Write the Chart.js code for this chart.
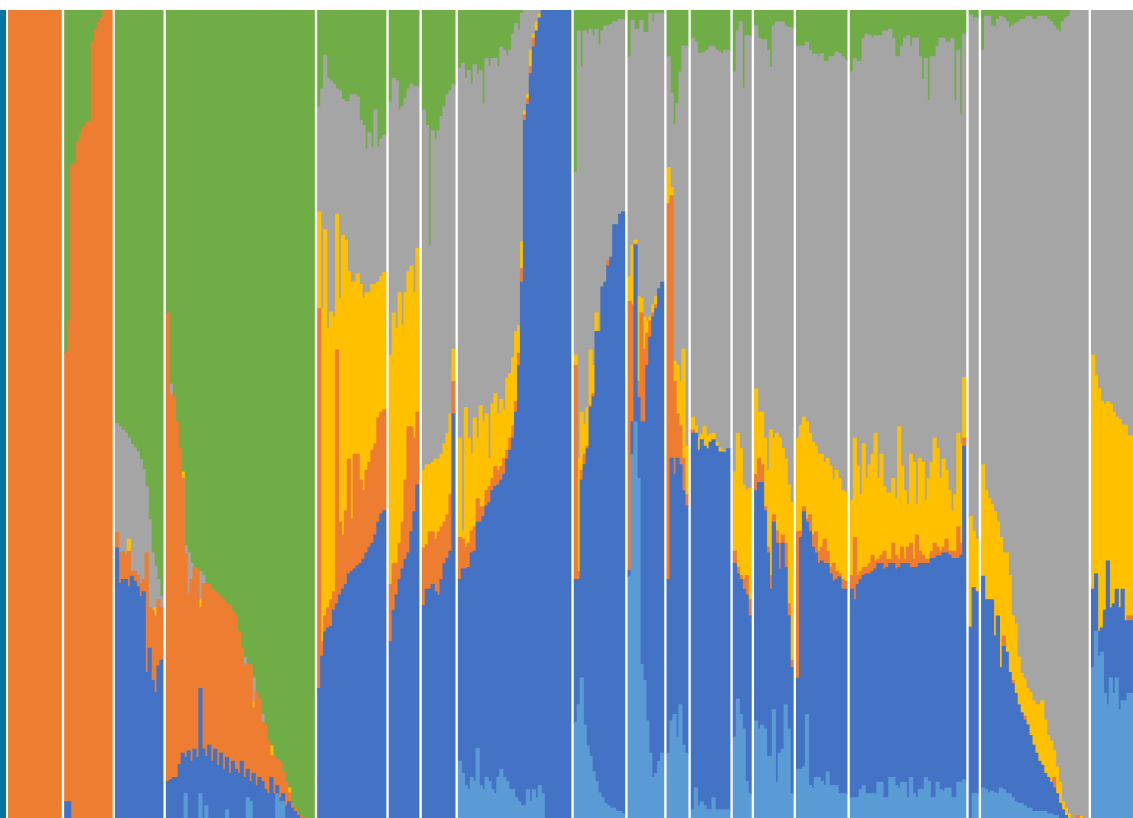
<!DOCTYPE html>
<html><head><meta charset="utf-8">
<script src="https://cdn.jsdelivr.net/npm/chart.js@4"></script>
<style>
html,body{margin:0;padding:0;background:#fff;width:1133px;height:818px;overflow:hidden;}
#edge{position:absolute;left:0;top:10px;width:6px;height:808px;background:#0475a2;}
#wrap{position:absolute;left:8px;top:10px;width:1125px;height:808px;}
</style></head><body>
<div id="edge"></div>
<div id="wrap"><canvas id="c"></canvas></div>
<script>
// number of individuals in each population group (left to right)
const groupSizes = [18,16,16,50,23,10,11,38,17,12,7,13,6,13,17,39,3,36,14];

// ancestry components, given as the cumulative top (in %) of each component, bottom to top
// K1 light blue
const lightBlueTop = [
 0,0,0,0,0,0,0,0,0,0,0,0,0,0,0,0,0,0,
 0,0,0,0,0,0,0,0,0,0,0,0,0,0,0,0,
 0,0,0,0,0,0,0,0,0,0,0,0,0,0,0,0,
 0,0,0,0,0,0,3,0,0,0, 0,3,0,1.5,0,0,0,0,0,0, 1,0,0,0,0,0,0,2.5,2,0, 0,0,0,0,0,0,0,3,2,2, 0,0,0,0,0,0,0,0,0,0,
 0,0,0,0,0,0,0,0,0,0,0,0,0,0,0,0,0,0,0,0,0,0,0,
 0,0,0,0,0,0,0,0,0,0,
 0,0,0,0,0,0,0,0,0,0,0,
 7,5.5,4,3.5,5,4.5,8.6,4,3.5,5, 4.5,3.5,3,5,6,5,4.5,3.5,3.5,2.5, 2,1.5,1.5,3.5,2,3.5,2.5,4,3,0, 0,0,0,0,0,0,0,0,
 11.8,14,17.3,11.5,8.9,7.6,5.7,4.5,3.1,2.5,1.8,1.5,1.2,1.2,0.8,0.8,0.5,
 29.9,45,49,42,19,17,12,8,5,5.5,7,8,
 8,12,12.8,10,14,9,8,
 1,3.7,1.5,2,1.5,1,1,2.5,1,1,1,1,1,
 10,14.7,12.8,11,4.5,3,
 12,11,11.5,11,7.6,7.6,13.4,4.4,8,8.5,14,11,3,
 6,6,6.3,12.8,4,3.7,5,5,4.5,4,5.7,4,4,4,3,3,3,
 2.5,2.5,2.5,3.5,4,3,3,3,3,4.4, 4.4,2.5,2.5,5,5,4,3.7,4.4,4.4,2.5, 5,3,2.5,3.5,3.5,5,4.5,2.5,2.5,4.4, 3.5,3.3,3.7,3.7,2.5,2.5,4.4,4.4,4.7,
 0,3,3,
 3.7,3.5,3.1,3.3,3.1,3,3.7,3.5,3,3, 2.5,2,1.8,1.8,1.5,1.2,1.2,0.8,0.8,0.8, 0.8,0.8,0.5,0.5,0.3,0.3,0,0,0,0, 0,0,0,0,0,0,
 18.6,23.1,20,20.5,15.4,14,17.3,15.4,17.3,13.4,14.5,14.5,15.4,15.4
];
// K2 blue
const blueTop = [
 0,0,0,0,0,0,0,0,0,0,0,0,0,0,0,0,0,0,
 2,2,0,0,0,0,0,0,0,0,0,0,0,0,0,0,
 33.4,29,29.5,29.5,28.6,29.9,29.3,28.6,27.4,28,18,21,17,15.5,18.8,19.5,
 4.5,4.7,5,5,6.6,8,7.5,8.3,7,8.5, 7.5,16,8.5,7.6,9,7,8.5,6.5,8,6, 7.5,5.5,7,6,5.5,7,5,6,4.5,5.5, 4,5,4.5,3.5,3,5,3,4,2.5,3, 1.5,2,1.2,0.8,0.3,0,0,0,0,0,
 16,20,23,23.5,23.7,25.7,26.5,27.6,28.3,28.9,30.2,30.5,30.8,31.2,31.5,32,32.8,33.5,34,35,36.6,37.6,38,
 21.8,25.7,27.6,29.5,30.8,32,32.8,35.4,37.9,41.2,
 26.3,28.3,28.3,28.9,28,27.6,29.5,31.5,32.1,33,50,
 29.5,30.8,30.8,31,32.8,33,36.6,36.6,37.3,38.6, 39,40.5,41,41.2,41.8,42.5,44.4,45.5,47,50.2, 56,66.3,86.3,88.3,92.1,95.4,97.4,99,100,100, 100,100,100,100,100,100,100,100,
 29.5,29.5,41.8,43.7,45.7,50.8,52.1,60.2,60.2,65.7,66.3,68.3,69.4,73.4,73.4,74.7,75,
 30.6,49,70.9,52,49,49,56,59.5,62,63,65.5,66.3,
 29.5,44.5,42.5,44.5,43.7,40.5,38.6,
 47.6,47.6,45.5,46.8,46,45.7,46.5,46.8,46,45.3,45.3,45.2,45.7,
 31.5,30.2,29.5,28.3,27.6,25,
 40.5,41.5,41.5,38,32.8,28.3,36.6,34,30.8,34,31,25,18.6,
 17.3,34.7,37.9,36.6,35.4,33.5,32.8,31.5,31.8,31.5,31.5,30.2,29.3,29.5,29.8,28.3,28.3,
 28.3,27,28.9,29.5,30,30.2,30.2,30.5,30.8,31.5, 31.5,30.8,31,31.5,31.5,30.8,31,31.5,31.5,31.5, 31,31,31,31.5,31.5,31.5,31.5,32.1,32.1,32.4, 32.4,32.8,32.8,32.5,32.1,32.1,32.1,32.5,46,
 23.6,28.5,28,
 29.9,27,27,27,22.5,25,18.6,21.2,20.5,18, 16.6,15.4,14,13,12.1,11.5,10.2,9,8,7, 6.5,5.5,5,4.4,3.7,3,1.8,1,0.3,0, 0,0,0,0,0,0,
 28.3,30.2,23.1,23.5,25.7,31.8,26,26.5,28.3,26,28.3,24.4,24.4,24.4
];
// K3 orange
const orangeTop = [
 100,100,100,100,100,100,100,100,100,100,100,100,100,100,100,100,100,100,
 57.6,61.5,80.8,81,83.7,84.7,85.5,86.2,86.2,96,97.5,98.5,99,100,100,100,
 35.3,32.8,33,32.5,33,30.5,30.5,30,29,29.5,32.8,26,25.7,25,27,26,
 62.5,52.4,52.1,49,45.7,42,32.7,27.8,29.5,31, 30.8,26,29,28.9,28.9,28.3,28,27.6,27.3,27, 26.5,26.3,25.5,25,23.1,21,18.9,19,18.9,13.6, 15.5,14.7,11.8,11.5,9.5,7.7,7.6,7.2,7,5.7, 4.5,3.1,1.8,1.2,0.5,0.2,0,0,0,0,
 63,21.8,25,26,27,28,57.9,36.6,35,38,44.4,37,45,45,41.8,40.5,43,44,45.5,46.3,49.5,50.2,50.5,
 28.9,31.5,31.5,34,36.6,41.8,48.4,48.4,47,50.2,
 33.4,33.8,35.4,35.4,34.5,35.4,36,36.6,37.5,40,54,
 34.7,34.5,33.5,34,35.5,36,39.5,38.5,38.5,40.5, 41,42,43.5,43,43.5,44.5,45.5,47,48.5,51.5, 57.5,68,87,89,93,96.5,97.4,99,100,100, 100,100,100,100,100,100,100,100,
 56,30.5,43,45,46,51,52.5,60.2,60.2,65.7,66.3,69,69.4,73.4,73.4,74.7,75,
 63.9,63.5,71,54,62.5,58,60,61.5,62.5,63.5,65.5,66.3,
 76,77,54,50,48.5,44.5,40,
 48,47.6,45.5,46.8,46,45.7,46.5,46.8,46,45.3,45.3,45.2,45.7,
 33,31,30,29.5,30,27,
 42.5,44.5,43.7,38.5,33.5,30,37.5,35.5,34,35,34,26.5,19.5,
 35.4,35.5,38.5,37,37.5,35,35.4,33,33.5,34.5,33,31,31.5,30.5,30.2,29.5,29.3,
 30,34.7,30,30.5,31,31,31.5,32.5,31.8,32, 32.5,33,32,32,34,32.5,32,33.5,32,33.5, 34,32,35,33,32.5,32,32,33,34,33.5, 33,33.5,34.5,33,33,33,36,34,47,
 23.6,28.5,28,
 29.9,27,27,27,22.5,25,18.6,22.5,20.5,18, 17,15.4,14,13,12.6,11.5,10.2,9,8,7, 6.5,5.5,5,4.4,5,3,1.8,1,0.3,0, 0,0,0.3,0,0,0,
 28.3,30.2,23.1,23.5,25.7,31.8,26,26.5,28.3,26,28.3,24.4,25,25
];
// K4 yellow
const yellowTop = [
 100,100,100,100,100,100,100,100,100,100,100,100,100,100,100,100,100,100,
 57.6,61.5,80.8,81,83.7,84.7,85.5,86.2,86.2,96,97.5,98.5,99,100,100,100,
 35.3,32.8,33,32.5,34.5,30.5,30.5,30,29,29.5,32.8,26,25.7,26,27,26,
 62.5,52.4,52.1,49,45.7,42.8,32.7,27.8,29.5,31, 30.8,27,29,28.9,28.9,28.3,28,27.6,27.3,27, 26.5,26.3,25.5,25,23.1,21,18.9,19,18.9,14.3, 15.5,14.7,11.8,11.5,9.5,8.9,7.6,7.2,7,5.7, 4.5,3.7,1.8,1.2,0.5,0.2,0,0,0,0,
 75,63,72.8,60.6,62.6,62,74.7,64.3,72.1,71.5,67.6,66.3,66.3,67.3,66,64.3,65,65,66,66,66.3,67,67.5,
 57.3,62.5,60.6,65,61,65,67.6,68.3,65,70.5,
 43,43.7,43.7,44,44.4,44.4,45,46.3,47.6,50,58,
 47,35.5,50.8,47,45,49.5,47,51,49,50, 44.5,51.2,52.5,50,51.8,50.5,54.4,55,57,60.2, 60.9,71.3,87.5,89.5,95,97,98.5,99.5,100,100, 100,100,100,100,100,100,100,100,
 57.3,44.4,50.2,48.7,50.8,57.9,56,62.5,60.2,65.7,66.3,69,69.4,73.4,73.4,74.7,75,
 67,70.9,71.5,64.5,64.3,62,61.5,62,63.5,64.5,65.5,66.3,
 80.5,78,56.5,56,54,58,46,
 49.6,48.5,47,47.5,48.4,47.2,47.5,47.6,46.5,45.8,45.5,45.2,45.7,
 42.8,47.6,45.7,41.2,40.5,40.8,
 53.1,50.2,50.2,47,43,48,47,47.6,47,45.7,44.4,41.2,39,
 47,48.6,49.6,49,47.6,46.5,46,45,45,44,44.5,43.5,41.8,43,42,40.5,40.3,
 39.3,47,43.5,40,46.3,42,43.7,45,47.6,42, 45,41,40.2,40.2,42,39.5,48.4,43.5,40.5,38.8, 45,44,38.8,44.5,44,39.3,42,44,47,45.7, 42,44.4,43,40.5,38,40,47.6,46.3,54.5,
 37.3,35.5,34.5,
 43.7,40.5,39.5,38.8,37.9,36.6,34.7,32.8,32.8,30, 25,24,19.9,17.9,17.2,16,15.5,14.5,14,14, 14.5,12.1,10.2,9.5,8.3,6.3,4.4,2,1.2,0.5, 0,0,0.3,0.2,0,0,
 57.3,54.7,53.1,51.5,51.2,51.5,51.2,50.2,49.6,49.3,48.6,48.6,47.3,47.3
];
// K5 gray (K6 green fills the rest up to 100)
const grayTop = [
 100,100,100,100,100,100,100,100,100,100,100,100,100,100,100,100,100,100,
 57.6,61.5,80.8,81,83.7,84.7,85.5,86.2,86.2,96,97.5,98.5,99,100,100,100,
 48.8,48.4,48,47.6,47,46.2,45.8,45.3,44.3,43.1,41,36.9,32.8,31.1,29.5,27.4,
 62.5,53.7,52.1,49,45.7,42.8,33.7,32.8,31.5,31, 30.8,30.5,30,28.9,28.9,28.3,28,27.6,27.3,27, 26.5,26.3,25.5,25,23.1,21,19.9,19,18.9,17.3, 15.5,14.7,12.8,11.5,9.5,8.9,7.6,7.2,7,5.7, 4.5,3.7,1.8,1.2,0.5,0.2,0,0,0,0,
 88,90.2,94.4,91.5,91.2,90.8,90.2,90,88.9,88.6,88.6,89.5,89.5,89.2,86.3,85.7,82.8,84.8,83,87.6,83,84,84.5,
 88.6,91.5,91.2,87.6,88,89,90.2,90.8,90.5,90.5,
 87.6,85.7,70.8,85,84,85,86.8,88,89.5,90,90.8,
 92.8,93.4,91.5,92.5,90.8,93.2,92,92.5,88.4,94, 93,94,94,93,95.4,95,94.3,95,97,98.3, 97.5,99.6,100,100,100,100,100,100,100,100, 100,100,100,100,100,100,100,100,
 79.9,97.4,92.9,97.4,97,97.6,96.8,97.6,95.7,97.4,98,98,98.2,98.5,98.5,98.8,98.8,
 94.2,98.7,97.6,97.6,98.7,97.2,97.2,99.6,98.5,99.6,99.6,99.6,
 94.2,89.7,85.8,88.4,92.3,95.5,95.5,
 96.5,96,94.6,94.6,94.8,95,95.5,95.5,95,94.8,94.6,95,95,
 92.3,97.4,98.5,90.3,96.8,96.8,
 98,96.5,96.3,96.3,95,92.9,98,98.5,98.5,98.5,98,97.8,97.8,
 95.5,95.5,95.5,96,95,94.5,94.5,94.2,94.6,93.6,93.6,94.2,94.2,94.8,94.6,94.2,93.8,
 92.3,94,93.6,93.6,96.5,97,96.8,96.5,96.8,96.8, 96.8,97.4,97.4,97.6,96.5,94.2,94.2,95.5,96.5,96.8, 95.5,96.5,96.5,94.2,91.4,94,88.8,94.2,94.2,95.5, 96.5,96.5,96,96,96.5,88.8,95,87,97,
 99.4,99,99,
 95,99.2,99.2,98,97.9,98.8,99.2,99,98.5,97.8, 98,98.3,98.5,98.8,98.8,99.2,99.2,98.8,98.8,99.2, 99.2,99.2,98.8,98.5,98,97.5,97.3,98.5,99,99.2, 100,100,100,100,100,100,
 100,100,100,100,100,100,100,100,100,100,100,100,100,100
];

const seriesNames = ['K1','K2','K3','K4','K5','K6'];
const seriesColors = ['#5B9BD5','#4472C4','#ED7D31','#FFC000','#A5A5A5','#70AD47'];

// ---- build chart data ----
const GAP = 1.2; // white space between groups, in individual widths
const xs = [];
let pos = 0;
groupSizes.forEach(n => { for (let j = 0; j < n; j++) { xs.push(pos); pos += 1; } pos += GAP; });
const N = xs.length;
const fullTop = xs.map(() => 100);
const tops = [lightBlueTop, blueTop, orangeTop, yellowTop, grayTop, fullTop];
if (tops.some(t => t.length !== N)) console.log('length mismatch', tops.map(t => t.length), N);
const bounds = tops.map(t => t.slice(0, N));
for (let i = 0; i < N; i++) {
  let prev = 0;
  for (let k = 0; k < bounds.length; k++) {
    const v = bounds[k][i] == null ? prev : bounds[k][i];
    bounds[k][i] = Math.max(prev, v);
    prev = bounds[k][i];
  }
}
const datasets = seriesNames.map((name, k) => {
  const data = [];
  for (let i = 0; i < N; i++) {
    const lo = k === 0 ? 0 : bounds[k - 1][i];
    const hi = bounds[k][i];
    if (hi - lo > 0.05) data.push({x: xs[i], y: [lo, hi]});
  }
  return {label: name, data, backgroundColor: seriesColors[k], borderWidth: 0,
          barPercentage: 1, categoryPercentage: 1, grouped: false, inflateAmount: 0.6};
});

new Chart(document.getElementById('c'), {
  type: 'bar',
  data: {datasets},
  options: {
    responsive: true, maintainAspectRatio: false, animation: false, devicePixelRatio: 1,
    layout: {padding: 0},
    plugins: {legend: {display: false}, tooltip: {enabled: false}},
    scales: {
      x: {type: 'linear', min: xs[0] - 0.5, max: xs[N - 1] + 0.5, display: false,
          grid: {display: false}, afterBuildTicks: s => { s.ticks = []; }},
      y: {min: 0, max: 100, display: false, grid: {display: false},
          afterBuildTicks: s => { s.ticks = []; }}
    }
  }
});
</script>
</body></html>
